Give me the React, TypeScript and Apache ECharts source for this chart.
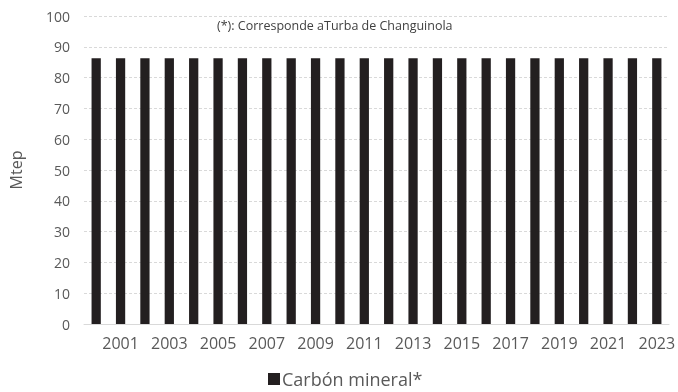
import React, { useEffect, useRef } from "react";
import * as echarts from "echarts";

const years = [
  "2000", "2001", "2002", "2003", "2004", "2005", "2006", "2007", "2008", "2009", "2010", "2011",
  "2012", "2013", "2014", "2015", "2016", "2017", "2018", "2019", "2020", "2021", "2022", "2023",
];
const carbonMineral = [
  86.3, 86.3, 86.3, 86.3, 86.3, 86.3, 86.3, 86.3, 86.3, 86.3, 86.3, 86.3,
  86.3, 86.3, 86.3, 86.3, 86.3, 86.3, 86.3, 86.3, 86.3, 86.3, 86.3, 86.3,
];
const seriesName = "Carbón mineral*";
const note = "(*): Corresponde aTurba de Changuinola";

export default function App() {
  const ref = useRef<HTMLDivElement>(null);
  useEffect(() => {
    const chart = echarts.init(ref.current!, null, { renderer: "svg" });
    const font = "'Open Sans', sans-serif";
    chart.setOption({
      animation: false,
      textStyle: { fontFamily: font },
      grid: { left: 81, right: 7, top: 16, bottom: 68, containLabel: false },
      legend: {
        top: 370,
        left: 268,
        data: [seriesName],
        icon: "rect",
        itemWidth: 12,
        itemHeight: 12,
        itemGap: 4,
        padding: 0,
        textStyle: { color: "#595959", fontSize: 18, fontFamily: font, padding: [0, 0, 0, -3] },
      },
      graphic: [
        {
          type: "text",
          left: 217,
          top: 19,
          style: { text: note, fill: "#404040", fontSize: 12.5, fontFamily: font },
        },
      ],
      xAxis: {
        type: "category",
        data: years,
        axisLine: { lineStyle: { color: "#d9d9d9" } },
        axisTick: { alignWithLabel: true, interval: 0, lineStyle: { color: "#d9d9d9" } },
        axisLabel: {
          interval: (i: number) => i % 2 === 1,
          color: "#595959",
          fontSize: 16,
          margin: 11,
        },
      },
      yAxis: {
        type: "value",
        min: 0,
        max: 100,
        interval: 10,
        name: "Mtep",
        nameLocation: "middle",
        nameGap: 60,
        nameTextStyle: { color: "#595959", fontSize: 16 },
        axisLabel: { color: "#595959", fontSize: 14, margin: 14 },
        axisLine: { show: false },
        axisTick: { show: false },
        splitLine: { lineStyle: { color: "#d9d9d9", type: [3, 2] } },
      },
      series: [
        {
          name: seriesName,
          type: "bar",
          data: carbonMineral,
          barWidth: "38%",
          itemStyle: { color: "#231f20" },
        },
      ],
    });
    return () => chart.dispose();
  }, []);
  return (
    <div
      ref={ref}
      style={{ position: "fixed", left: 0, top: 0, width: 678, height: 392 }}
    />
  );
}
